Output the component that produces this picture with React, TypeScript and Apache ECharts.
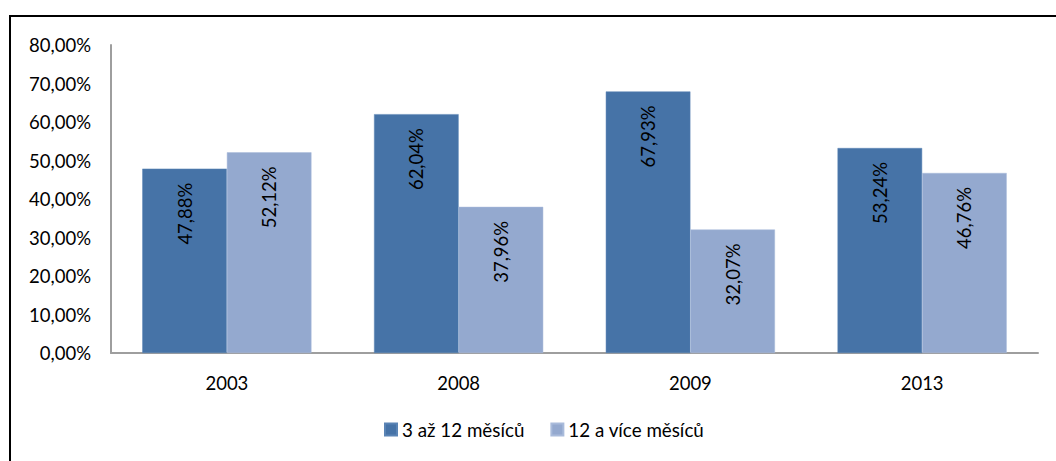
import React, { useEffect, useRef } from "react";
import * as echarts from "echarts";

const categories = ["2003", "2008", "2009", "2013"];
const series1Name = "3 až 12 měsíců";
const series2Name = "12 a více měsíců";
const series1Values = [47.88, 62.04, 67.93, 53.24];
const series2Values = [52.12, 37.96, 32.07, 46.76];
const yMin = 0;
const yMax = 80;
const yInterval = 10;

const FONT = "Lato, 'Noto Sans', sans-serif";
const fmt = (v: number) => v.toFixed(2).replace(".", ",") + "%";

export default function App() {
  const ref = useRef<HTMLDivElement>(null);
  useEffect(() => {
    document.body.style.margin = "0";
    const chart = echarts.init(ref.current!, undefined, { renderer: "svg" });
    const labelCfg = {
      show: true,
      position: "insideTop" as const,
      rotate: 90,
      align: "right" as const,
      verticalAlign: "middle" as const,
      distance: 14,
      color: "#000",
      fontFamily: FONT,
      fontSize: 18.5,
      formatter: (p: any) => fmt(p.value),
    };
    chart.setOption({
      animation: false,
      backgroundColor: "#fff",
      textStyle: { fontFamily: FONT },
      graphic: [
        {
          type: "rect",
          shape: { x: 10, y: 16, width: 1200, height: 600 },
          style: { fill: "none", stroke: "#000", lineWidth: 2 },
          silent: true,
          z: 100,
        },
      ],
      grid: { left: 111, right: 18, top: 45, bottom: 108, containLabel: false },
      legend: {
        bottom: 17,
        left: 379,
        itemWidth: 12,
        itemHeight: 12,
        itemGap: 26,
        icon: "rect",
        textStyle: { fontFamily: FONT, fontSize: 18.8, color: "#000" },
        data: [series1Name, series2Name],
      },
      xAxis: {
        type: "category",
        data: categories,
        axisLine: { lineStyle: { color: "#9e9e9e", width: 2 } },
        axisTick: { show: false },
        axisLabel: { color: "#000", fontFamily: FONT, fontSize: 18.5, margin: 20 },
      },
      yAxis: {
        type: "value",
        min: yMin,
        max: yMax,
        interval: yInterval,
        axisLine: { show: true, lineStyle: { color: "#9e9e9e", width: 2 } },
        axisTick: { show: false },
        splitLine: { show: false },
        axisLabel: {
          color: "#000",
          fontFamily: FONT,
          fontSize: 18.5,
          margin: 20,
          formatter: (v: number) => fmt(v),
        },
      },
      series: [
        {
          name: series1Name,
          type: "bar",
          data: series1Values,
          barGap: "0%",
          barCategoryGap: "27%",
          itemStyle: { color: "#4673A7", borderColor: "#5a84b5", borderWidth: 0.5 },
          label: labelCfg,
        },
        {
          name: series2Name,
          type: "bar",
          data: series2Values,
          itemStyle: { color: "#94A9CF", borderColor: "#a9bbdb", borderWidth: 0.5 },
          label: labelCfg,
        },
      ],
    });
    return () => chart.dispose();
  }, []);
  return <div ref={ref} style={{ width: 1056, height: 461 }} />;
}
